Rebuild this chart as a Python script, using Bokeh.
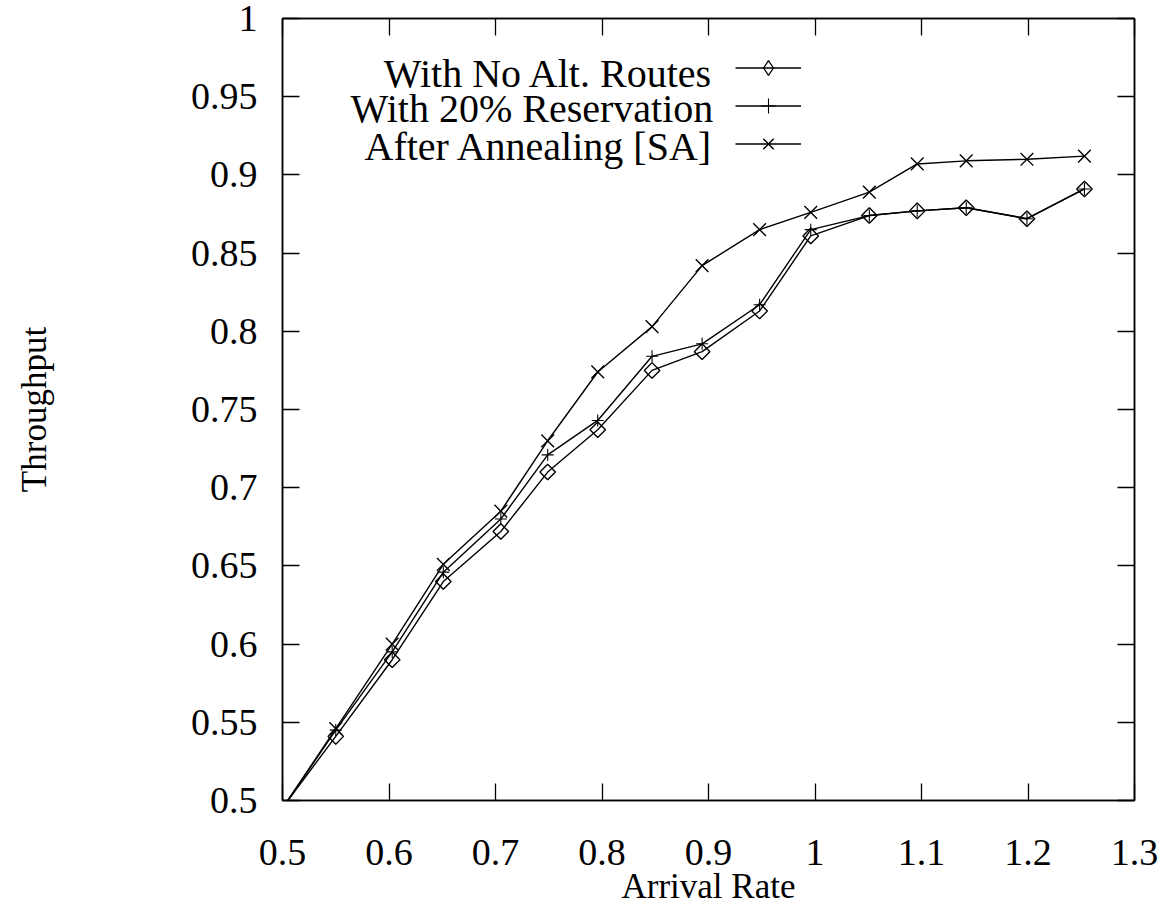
import math
from bokeh.plotting import figure
from bokeh.models import LinearAxis, FixedTicker, Legend, LegendItem, Label, Range1d
from bokeh.embed import file_html
from bokeh.resources import INLINE

# ---- data ----
arrival = [0.505, 0.55, 0.603, 0.651, 0.705, 0.749, 0.796, 0.847, 0.894, 0.948, 0.996,
           1.051, 1.096, 1.142, 1.199, 1.253]
no_alt = [0.5, 0.541, 0.590, 0.640, 0.672, 0.710, 0.737, 0.775, 0.787, 0.813, 0.861,
          0.874, 0.877, 0.879, 0.872, 0.891]
reserve20 = [0.5, 0.545, 0.595, 0.646, 0.680, 0.721, 0.743, 0.784, 0.792, 0.817, 0.865,
             0.874, 0.877, 0.879, 0.872, 0.891]
annealing = [0.5, 0.546, 0.600, 0.651, 0.685, 0.730, 0.774, 0.803, 0.842, 0.865, 0.876,
             0.889, 0.907, 0.909, 0.910, 0.912]

series_names = ["With No Alt. Routes", "With 20% Reservation", "After Annealing [SA]"]

x_ticks = [0.5, 0.6, 0.7, 0.8, 0.9, 1.0, 1.1, 1.2, 1.3]
x_tick_labels = ["0.5", "0.6", "0.7", "0.8", "0.9", "1", "1.1", "1.2", "1.3"]
y_ticks = [0.5, 0.55, 0.6, 0.65, 0.7, 0.75, 0.8, 0.85, 0.9, 0.95, 1.0]
y_tick_labels = ["0.5", "0.55", "0.6", "0.65", "0.7", "0.75", "0.8", "0.85", "0.9", "0.95", "1"]

FONT = "Liberation Serif"
TICK_FS = "38px"
LABEL_FS = "35px"
LEGEND_FS = "40px"

p = figure(width=1160, height=908, output_backend="svg", toolbar_location=None,
           x_range=Range1d(0.5, 1.3), y_range=Range1d(0.5, 1.0),
           min_border_left=282, min_border_right=26, min_border_top=18, min_border_bottom=104)
p.xgrid.visible = False
p.ygrid.visible = False
p.outline_line_color = "black"
p.outline_line_width = 1.5
p.background_fill_color = "white"
p.border_fill_color = "white"

def style_axis(ax, ticks, labels, show_labels):
    ax.ticker = FixedTicker(ticks=ticks)
    ax.minor_tick_line_color = None
    ax.major_tick_in = 17
    ax.major_tick_out = 0
    ax.major_tick_line_color = "black"
    ax.major_tick_line_width = 1.3
    ax.axis_line_color = "black"
    ax.axis_line_width = 1.5
    ax.major_label_text_font = FONT
    ax.major_label_text_color = "black"
    if show_labels:
        ax.major_label_overrides = {t: l for t, l in zip(ticks, labels)}
        ax.major_label_text_font_size = TICK_FS
    else:
        ax.major_label_overrides = {t: "" for t in ticks}
        ax.major_label_standoff = 0
        ax.major_label_text_font_size = "8px"

xa = p.xaxis[0]
style_axis(xa, x_ticks, x_tick_labels, True)
xa.major_label_standoff = 39
xa.axis_label = "Arrival Rate"
xa.axis_label_text_font = FONT
xa.axis_label_text_font_size = LABEL_FS
xa.axis_label_text_font_style = "normal"
xa.axis_label_text_color = "black"
xa.axis_label_standoff = -1

ya = p.yaxis[0]
style_axis(ya, y_ticks, y_tick_labels, True)
ya.major_label_standoff = 25
ya.axis_label = "Throughput"
ya.axis_label_text_font = FONT
ya.axis_label_text_font_size = LABEL_FS
ya.axis_label_text_font_style = "normal"
ya.axis_label_text_color = "black"
ya.axis_label_standoff = 134

top = LinearAxis()
style_axis(top, x_ticks, x_tick_labels, False)
p.add_layout(top, "above")
right = LinearAxis()
style_axis(right, y_ticks, y_tick_labels, False)
p.add_layout(right, "right")

LW = 1.4
l1 = p.line(arrival, no_alt, line_color="black", line_width=LW)
m1 = p.scatter(arrival[1:], no_alt[1:], marker="square", angle=math.pi / 4, size=11,
               fill_alpha=0.0, line_color="black", line_width=1.4)
# legend-only key symbol (a single NaN point, so nothing is drawn in the plot)
nan = float("nan")
m1_key = p.scatter([nan], [nan], marker="diamond", fill_alpha=0.0, line_color="black", line_width=1.3)
l2 = p.line(arrival, reserve20, line_color="black", line_width=LW)
m2 = p.scatter(arrival[1:], reserve20[1:], marker="cross", size=12, line_color="black", line_width=1.1)
l3 = p.line(arrival, annealing, line_color="black", line_width=LW)
m3 = p.scatter(arrival[1:], annealing[1:], marker="x", size=18, line_color="black", line_width=1.4)

legend = Legend(items=[LegendItem(label=" ", renderers=[l1, m1_key]),
                       LegendItem(label=" ", renderers=[l2, m2]),
                       LegendItem(label=" ", renderers=[l3, m3])],
                location=(453, 638), glyph_width=66, glyph_height=37, spacing=1,
                padding=0, margin=0, label_width=1, label_standoff=0,
                border_line_color=None, background_fill_alpha=0.0,
                label_text_font_size="8px")
p.add_layout(legend, "center")

legend_y = [0.965, 0.9425, 0.918]
for name, yy in zip(series_names, legend_y):
    p.add_layout(Label(x=0.9045, y=yy, text=name, text_align="right", text_baseline="middle",
                       text_font=FONT, text_font_size=LEGEND_FS, text_color="black"))

open("out.html", "w").write(file_html(p, INLINE))
